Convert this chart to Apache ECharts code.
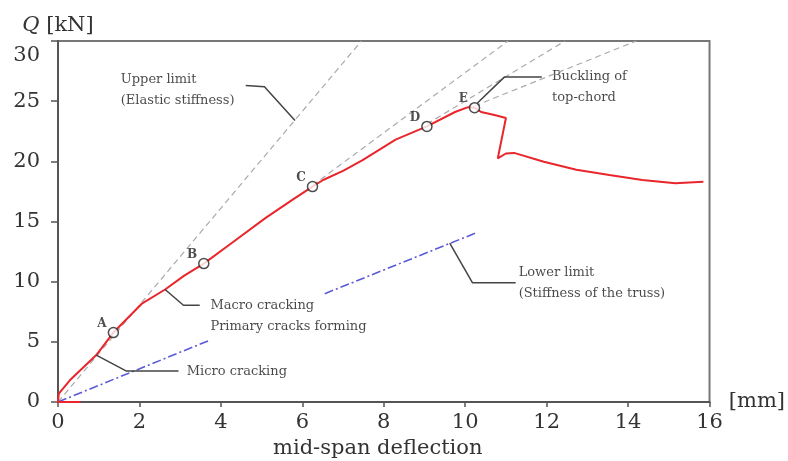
<!DOCTYPE html>
<html>
<head>
<meta charset="utf-8">
<script src="https://cdn.jsdelivr.net/npm/echarts@6/dist/echarts.min.js"></script>
<style>
  html, body { margin: 0; padding: 0; background: #fff; }
  #chart { width: 788px; height: 461px; }
</style>
</head>
<body>
<div id="chart"></div>
<script>
// load-deflection curve, [deflection mm, Q kN]
const curve = [
  [0.55, 0], [0, 0], [0.02, 0.7], [0.29, 1.8], [0.94, 3.9], [1.36, 5.77],
  [2.07, 8.2], [2.63, 9.35], [3.1, 10.5], [3.58, 11.5], [4.3, 13.3], [5.1, 15.3],
  [5.8, 16.9], [6.25, 17.9], [6.51, 18.45], [7.0, 19.2], [7.48, 20.1], [8.29, 21.8],
  [9.06, 22.9], [9.75, 24.1], [10.07, 24.5], [10.23, 24.46], [10.39, 24.1],
  [10.72, 23.85], [11.0, 23.6], [10.8, 20.25], [11.0, 20.65], [11.2, 20.7],
  [11.93, 19.97], [12.73, 19.3], [13.54, 18.86], [14.35, 18.45], [15.16, 18.17],
  [15.5, 18.25], [15.85, 18.3]
];

const points = [
  { name: 'A', value: [1.36, 5.77] },
  { name: 'B', value: [3.58, 11.5] },
  { name: 'C', value: [6.25, 17.9] },
  { name: 'D', value: [9.06, 22.9] },
  { name: 'E', value: [10.23, 24.46] }
];

// grey dashed stiffness lines
const upperLimit = [[0, 0], [7.45, 30]];
const tangentC = [[6.25, 18.0], [11.05, 30]];
const tangentD = [[9.06, 23.1], [12.45, 30]];
const tangentE = [[10.23, 24.6], [14.2, 30]];

// blue dash-dot lower limit (broken by the text)
const lowerLimit1 = [[0, 0], [3.7, 5.1]];
const lowerLimit2 = [[6.55, 9.0], [10.3, 14.1]];

// leader lines for the notes
const leaders = [
  [[5.82, 23.4], [5.07, 26.2], [4.61, 26.3]],
  [[10.3, 24.85], [10.96, 27.0], [11.88, 27.0]],
  [[2.63, 9.35], [3.08, 8.04], [3.48, 8.04]],
  [[0.94, 3.89], [1.67, 2.58], [2.96, 2.58]],
  [[9.62, 13.2], [10.18, 9.9], [11.24, 9.9]]
];

const notes = [
  { value: [1.53, 25.93], text: 'Upper limit\n(Elastic stiffness)' },
  { value: [12.12, 26.14], text: 'Buckling of\ntop-chord' },
  { value: [3.73, 7.13], text: 'Macro cracking\nPrimary cracks forming' },
  { value: [3.15, 2.5], text: 'Micro cracking' },
  { value: [11.3, 9.88], text: 'Lower limit\n(Stiffness of the truss)' }
];

const serif = '"DejaVu Serif", "Liberation Serif", serif';

function seg(data, color, type, width) {
  return {
    type: 'line', data: data, symbol: 'none', silent: true,
    lineStyle: { color: color, type: type, width: width }
  };
}

const chart = echarts.init(document.getElementById('chart'));

const series = [
  seg(upperLimit, '#aaa', [6, 4], 1.2),
  seg(tangentC, '#aaa', [6, 4], 1.2),
  seg(tangentD, '#aaa', [6, 4], 1.2),
  seg(tangentE, '#aaa', [6, 4], 1.2),
  seg(lowerLimit1, '#5a5ad8', [9, 3, 2, 3], 1.6),
  seg(lowerLimit2, '#5a5ad8', [9, 3, 2, 3], 1.6),
  seg(curve, '#e8262b', 'solid', 2)
];
leaders.forEach(l => series.push(seg(l, '#444', 'solid', 1.5)));

series.push({
  type: 'scatter',
  data: points,
  symbol: 'circle',
  symbolSize: 10,
  itemStyle: { color: '#fff', borderColor: '#222', borderWidth: 1.5 },
  label: {
    show: true,
    formatter: '{b}',
    position: 'left',
    distance: 1,
    offset: [0, -9],
    fontFamily: serif,
    fontSize: 12,
    fontWeight: 'bold',
    color: '#222'
  },
  z: 5
});

series.push({
  type: 'scatter',
  data: notes.map(n => ({ value: n.value, name: n.text })),
  symbolSize: 1,
  itemStyle: { color: 'rgba(0,0,0,0)' },
  label: {
    show: true,
    formatter: '{b}',
    position: 'right',
    distance: 0,
    fontFamily: serif,
    fontSize: 13,
    lineHeight: 21,
    color: '#1a1a1a'
  },
  silent: true
});

chart.setOption({
  animation: false,
  grid: {
    left: 58, right: 70, top: 41, bottom: 59,
    show: true, borderColor: '#777', borderWidth: 2
  },
  xAxis: {
    type: 'value',
    min: 0, max: 16, interval: 2,
    name: '[mm]',
    nameLocation: 'end',
    nameGap: 12,
    nameTextStyle: { fontFamily: serif, fontSize: 21, color: '#333', verticalAlign: 'middle' },
    axisLine: { lineStyle: { color: '#555', width: 2 } },
    axisTick: { show: true, length: 5, lineStyle: { color: '#555', width: 1.5 } },
    axisLabel: { fontFamily: serif, fontSize: 21, color: '#333', margin: 10 },
    splitLine: { show: false }
  },
  yAxis: {
    type: 'value',
    min: 0, max: 30, interval: 5,
    name: '{i|Q} [kN]',
    nameLocation: 'end',
    nameGap: 5,
    nameTextStyle: {
      fontFamily: serif, fontSize: 21, color: '#333',
      rich: { i: { fontFamily: serif, fontSize: 21, fontStyle: 'italic', color: '#333' } }
    },
    axisLine: { lineStyle: { color: '#555', width: 2 } },
    axisTick: { show: true, length: 7, lineStyle: { color: '#555', width: 1.5 } },
    axisLabel: {
      fontFamily: serif, fontSize: 21, color: '#333', margin: 18,
      formatter: v => v === 30 ? '{top|30}' : String(v),
      rich: { top: { fontFamily: serif, fontSize: 21, color: '#333', padding: [30, 0, 0, 0] } }
    },
    splitLine: { show: false }
  },
  graphic: [{
    type: 'text',
    left: 273,
    top: 438,
    style: { text: 'mid-span deflection', font: '21px ' + serif, fill: '#333' }
  }],
  series: series
});
</script>
</body>
</html>
